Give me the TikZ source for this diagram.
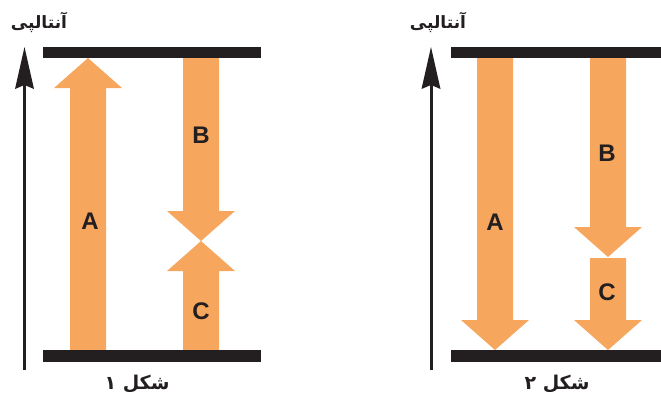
\documentclass[tikz,border=0pt]{standalone}
\usepackage{fontspec}
\setmainfont{Liberation Sans}
\newfontfamily\arabicfont[Script=Arabic]{DejaVu Sans}
\TeXXeTstate=1
\definecolor{arrorange}{RGB}{247,166,94}
\definecolor{barblack}{RGB}{35,31,32}
\tikzset{
  arr/.style={fill=arrorange},
  barstyle/.style={fill=barblack},
  letter/.style={font=\bfseries\fontsize{24}{24}\selectfont, text=barblack, inner sep=0pt},
  axislabel/.style={font=\arabicfont\bfseries\fontsize{17}{19}\selectfont, text=barblack, inner sep=0pt},
  figlabel/.style={font=\arabicfont\bfseries\fontsize{19}{21}\selectfont, text=barblack, inner sep=0pt},
  axisline/.style={draw=barblack, line width=3pt}
}
\newcommand\blkarrow[3]{%
  \pgfmathsetmacro\hb{#3-30*sign(#3-#2)}%
  \fill[arr] (#1-18,#2) -- (#1-18,\hb) -- (#1-34,\hb) -- (#1,#3) -- (#1+34,\hb) -- (#1+18,\hb) -- (#1+18,#2) -- cycle;}
\newcommand\axisarrow[3]{% x, ybottom, ytip
  \draw[axisline] (#1,#2) -- (#1,#3+30);
  \fill[barblack] (#1,#3) -- (#1+9.5,#3+42) -- (#1,#3+38) -- (#1-9.5,#3+42) -- cycle;}
\begin{document}
\begin{tikzpicture}[x=1pt,y=-1pt]
\useasboundingbox (0,0) rectangle (661,397);
% ---------- figure 1 ----------
\blkarrow{88}{350}{58}
\blkarrow{201}{56}{241}
\blkarrow{201}{350}{241}
\fill[barstyle] (43,47) rectangle (261,58);
\fill[barstyle] (43,350) rectangle (261,362);
\axisarrow{24.5}{370}{47}
\node[letter] (a1) at (90,221) {A};
\node[letter] (b1) at (201,135) {B};
\node[letter] (c1) at (201,311) {C};
\node[axislabel] (h1) at (39,22) {\beginR آنتالپی\endR};
\node[figlabel] (f1) at (137,384) {\beginR شکل ۱\endR};
% ---------- figure 2 ----------
\blkarrow{495}{57}{350}
\blkarrow{608}{57}{257}
\blkarrow{608}{258}{350}
\fill[barstyle] (451,47) rectangle (661,58);
\fill[barstyle] (451,350) rectangle (661,362);
\axisarrow{431}{370}{47}
\node[letter] (a2) at (495,222) {A};
\node[letter] (b2) at (607,153) {B};
\node[letter] (c2) at (607,292) {C};
\node[axislabel] (h2) at (438,22) {\beginR آنتالپی\endR};
\node[figlabel] (f2) at (557,384) {\beginR شکل ۲\endR};
\end{tikzpicture}
\end{document}
